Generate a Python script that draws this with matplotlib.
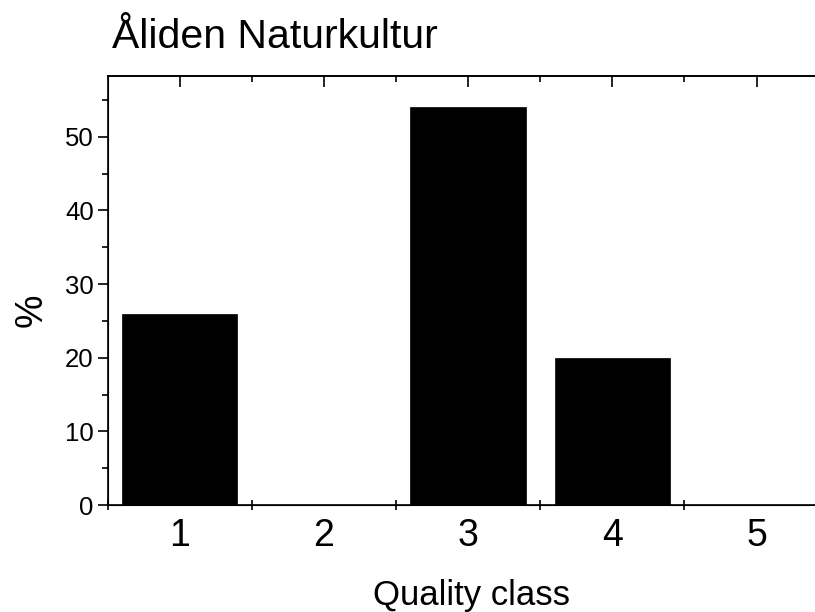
import numpy as np
import matplotlib.pyplot as plt
from matplotlib.ticker import FixedLocator, MultipleLocator, NullFormatter

plt.rcParams['font.family'] = ['Liberation Sans', 'DejaVu Sans']

# Quality class distribution
classes = [1, 2, 3, 4, 5]
percent = [26, 0, 54, 20, 0]
class_labels = ['1', '2', '3', '4', '5']

fig = plt.figure(figsize=(8.15, 6.12), dpi=100)
ax = fig.add_axes([0.1321, 0.1748, 0.8847, 0.7015])

ax.bar(classes, percent, width=0.8, color='black', edgecolor='black', linewidth=0.5)

ax.set_xlim(0.5, 5.5)
ax.set_ylim(0, 58.3)

# spines
for side in ['left', 'bottom', 'top']:
    ax.spines[side].set_linewidth(1.2)
ax.spines['right'].set_visible(False)

# y axis: outward ticks with minor every 5
ax.yaxis.set_major_locator(FixedLocator([0, 10, 20, 30, 40, 50]))
ax.yaxis.set_minor_locator(MultipleLocator(5))
ax.tick_params(axis='y', which='major', direction='out', length=7, width=1.2,
               labelsize=18.5, pad=3)
ax.tick_params(axis='y', which='minor', direction='out', length=4, width=1.2)

# x axis: ticks between classes, labels at class centres
ax.xaxis.set_major_locator(FixedLocator([0.5, 1.5, 2.5, 3.5, 4.5]))
ax.xaxis.set_major_formatter(NullFormatter())
ax.xaxis.set_minor_locator(FixedLocator(classes))
ax.set_xticklabels(class_labels, minor=True)
ax.tick_params(axis='x', which='major', direction='inout', length=7, width=1.2)
ax.tick_params(axis='x', which='minor', length=0, labelsize=27, pad=9)

# top axis: ticks at class centres, minor between
top = ax.twiny()
top.set_xlim(ax.get_xlim())
top.spines['right'].set_visible(False)
top.spines['top'].set_linewidth(1.2)
top.xaxis.set_major_locator(FixedLocator(classes))
top.xaxis.set_minor_locator(FixedLocator([1.5, 2.5, 3.5, 4.5]))
top.xaxis.set_major_formatter(NullFormatter())
top.tick_params(axis='x', which='major', direction='in', length=8, width=1.2)
top.tick_params(axis='x', which='minor', direction='in', length=4, width=1.2)

# axis titles and chart title
fig.text(0.578, 0.0114, 'Quality class', fontsize=25, ha='center', va='baseline')
fig.text(0.039, 0.493, '%', fontsize=27, rotation=90, ha='center', va='center')
fig.text(0.137, 0.922, 'Åliden Naturkultur', fontsize=29.5, ha='left', va='baseline')

fig.savefig('out.png', dpi=100)
